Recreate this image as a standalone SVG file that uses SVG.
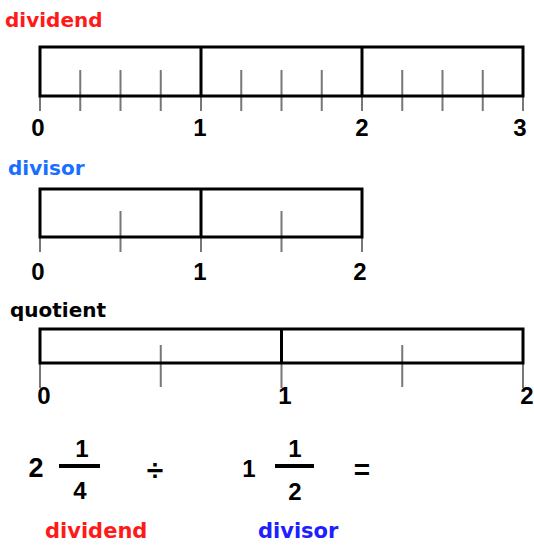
<svg xmlns="http://www.w3.org/2000/svg" width="534" height="546" viewBox="0 0 534 546">
<style>
.bar{fill:none;stroke:#000;stroke-width:3}
.div{stroke:#000;stroke-width:3}
.tick{stroke:#777;stroke-width:2}
.lbl{font-family:"DejaVu Sans",sans-serif;font-weight:bold}
.num{font-family:"Liberation Sans",Arial,sans-serif;font-weight:bold;font-size:24px;fill:#000;text-anchor:middle}
.fr{font-family:"Liberation Sans",Arial,sans-serif;font-weight:bold;font-size:24px;fill:#000;text-anchor:middle}
.fbar{stroke:#000;stroke-width:4}
</style>
<rect width="534" height="546" fill="#fff"/>
<g id="dividend-line">
<text class="lbl" x="5" y="27" font-size="20" fill="#ff1a1a">dividend</text>
<g class="tick">
<line x1="40" y1="96" x2="40" y2="111"/><line x1="201" y1="96" x2="201" y2="111"/><line x1="362" y1="96" x2="362" y2="111"/><line x1="523" y1="96" x2="523" y2="111"/>
<line x1="80.25" y1="70" x2="80.25" y2="111"/><line x1="120.5" y1="70" x2="120.5" y2="111"/><line x1="160.75" y1="70" x2="160.75" y2="111"/>
<line x1="241.25" y1="70" x2="241.25" y2="111"/><line x1="281.5" y1="70" x2="281.5" y2="111"/><line x1="321.75" y1="70" x2="321.75" y2="111"/>
<line x1="402.25" y1="70" x2="402.25" y2="111"/><line x1="442.5" y1="70" x2="442.5" y2="111"/><line x1="482.75" y1="70" x2="482.75" y2="111"/>
</g>
<rect class="bar" x="40" y="47" width="483" height="49"/>
<line class="div" x1="201" y1="47" x2="201" y2="96"/><line class="div" x1="362" y1="47" x2="362" y2="96"/>
<text class="num" x="38" y="136">0</text><text class="num" x="200" y="136">1</text><text class="num" x="362" y="136">2</text><text class="num" x="520" y="136">3</text>
</g>
<g id="divisor-line">
<text class="lbl" x="8" y="175" font-size="20" fill="#1a6fff">divisor</text>
<g class="tick">
<line x1="40" y1="237" x2="40" y2="252"/><line x1="201" y1="237" x2="201" y2="252"/><line x1="362" y1="237" x2="362" y2="252"/>
<line x1="120.5" y1="211" x2="120.5" y2="252"/><line x1="281.5" y1="211" x2="281.5" y2="252"/>
</g>
<rect class="bar" x="40" y="189" width="322" height="48"/>
<line class="div" x1="201" y1="189" x2="201" y2="237"/>
<text class="num" x="38" y="280">0</text><text class="num" x="200" y="280">1</text><text class="num" x="360" y="280">2</text>
</g>
<g id="quotient-line">
<text class="lbl" x="10" y="317" font-size="20" fill="#000">quotient</text>
<g class="tick">
<line x1="40" y1="363" x2="40" y2="388"/><line x1="281.5" y1="363" x2="281.5" y2="388"/><line x1="523" y1="363" x2="523" y2="388"/>
<line x1="160.75" y1="345" x2="160.75" y2="387"/><line x1="402.25" y1="345" x2="402.25" y2="387"/>
</g>
<rect class="bar" x="40" y="329" width="483" height="34"/>
<line class="div" x1="281.5" y1="329" x2="281.5" y2="363"/>
<text class="num" x="44" y="404">0</text><text class="num" x="285" y="404">1</text><text class="num" x="527" y="404">2</text>
</g>
<g id="equation">
<text class="fr" x="36" y="477" style="font-size:27px">2</text>
<text class="fr" x="82" y="457">1</text>
<line class="fbar" x1="59" y1="466" x2="100" y2="466"/>
<text class="fr" x="80" y="499">4</text>
<text class="fr" x="155" y="480" style="font-size:30px">÷</text>
<text class="fr" x="249" y="477">1</text>
<text class="fr" x="295" y="457">1</text>
<line class="fbar" x1="275" y1="466" x2="314" y2="466"/>
<text class="fr" x="295" y="500">2</text>
<text class="fr" x="362" y="479" style="font-size:28px">=</text>
<text class="lbl" x="45" y="538" font-size="21" fill="#ff1a1a">dividend</text>
<text class="lbl" x="258" y="538" font-size="21" fill="#2020ff">divisor</text>
</g>
</svg>
